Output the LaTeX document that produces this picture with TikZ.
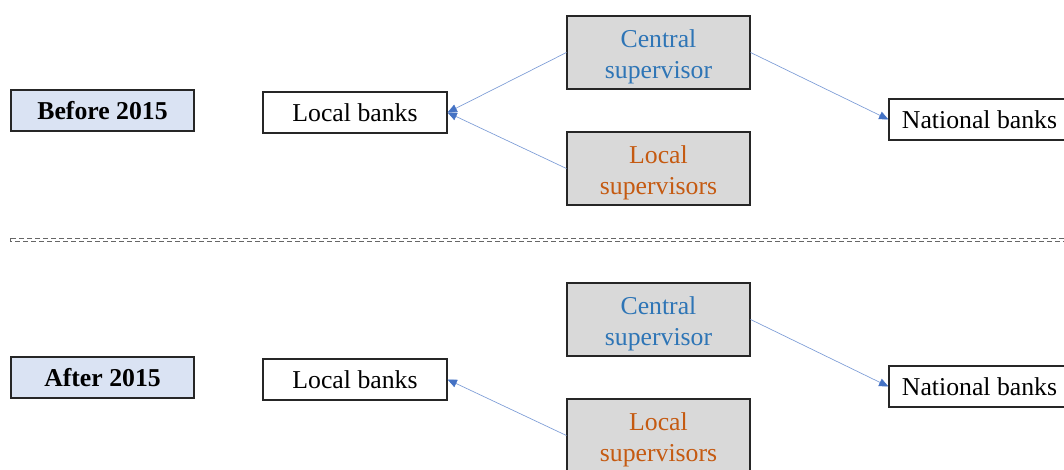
\documentclass[tikz,border=0pt]{standalone}
\usepackage{fontspec}
\setmainfont{Liberation Serif}
\usetikzlibrary{positioning,arrows.meta}

\definecolor{periodfill}{RGB}{218,227,243}
\definecolor{supfill}{RGB}{217,217,217}
\definecolor{centralblue}{RGB}{46,117,182}
\definecolor{localorange}{RGB}{197,90,17}
\definecolor{linkblue}{RGB}{68,114,196}

\newcommand{\twolines}[2]{\raisebox{-3pt}[\height][\depth]{\begin{tabular}{@{}c@{}}#1\\#2\end{tabular}}}

\tikzset{
  box/.style={draw=black!85, line width=0.9pt, minimum height=30.75pt, inner sep=0pt,
    font=\fontsize{19.3}{23.25}\selectfont},
  period/.style={box, fill=periodfill, minimum width=137.25pt, font=\fontsize{19.3}{23.25}\selectfont\bfseries},
  bank/.style={box, fill=white, minimum width=138pt},
  natbank/.style={box, fill=white, minimum width=135.75pt},
  sup/.style={box, fill=supfill, minimum width=137.25pt, minimum height=54.75pt},
  link/.style={draw=linkblue!70, line width=0.5pt, -{Triangle[length=7pt,width=6pt,color=linkblue]}}
}

\begin{document}
\begin{tikzpicture}[x=0.75pt, y=-0.75pt, node distance=200.25pt, on grid]
\useasboundingbox (0,0) rectangle (1064,470);
% before 2015
\node[period]	(before)	at (102.5,110.5)	{Before 2015};
\node[bank]		(localA)	at (355,112.5)		{Local banks};
\node[sup, text=centralblue]	(centralA)	at (658.5,52.5)		{\twolines{Central}{supervisor}};
\node[sup, text=localorange]	(supA)		at (658.5,168.5)	{\twolines{Local}{supervisors}};
\node[natbank]	(nationalA)	at (979.5,119.5)	{National banks};
% after 2015
\node[period]	(after)		[below=of before]	{After 2015};
\node[bank]		(localB)	[below=of localA]	{Local banks};
\node[sup, text=centralblue]	(centralB)	[below=of centralA]	{\twolines{Central}{supervisor}};
\node[sup, text=localorange]	(supB)		[below=of supA]		{\twolines{Local}{supervisors}};
\node[natbank]	(nationalB)	[below=of nationalA]	{National banks};
% separator
\coordinate (sepL) at (10,238.5);
\coordinate (sepR) at (1066,241.5);
\draw[black!60, line width=0.6pt, dash pattern=on 4pt off 2pt] (sepL) rectangle (sepR);
\path	(centralA.west)	edge[link] (localA.east)
		(supA.west)		edge[link] (localA.east)
		(centralA.east)	edge[link] (nationalA.west)
		(supB.west)		edge[link] (localB.east)
		(centralB.east)	edge[link] (nationalB.west);
\end{tikzpicture}
\end{document}
